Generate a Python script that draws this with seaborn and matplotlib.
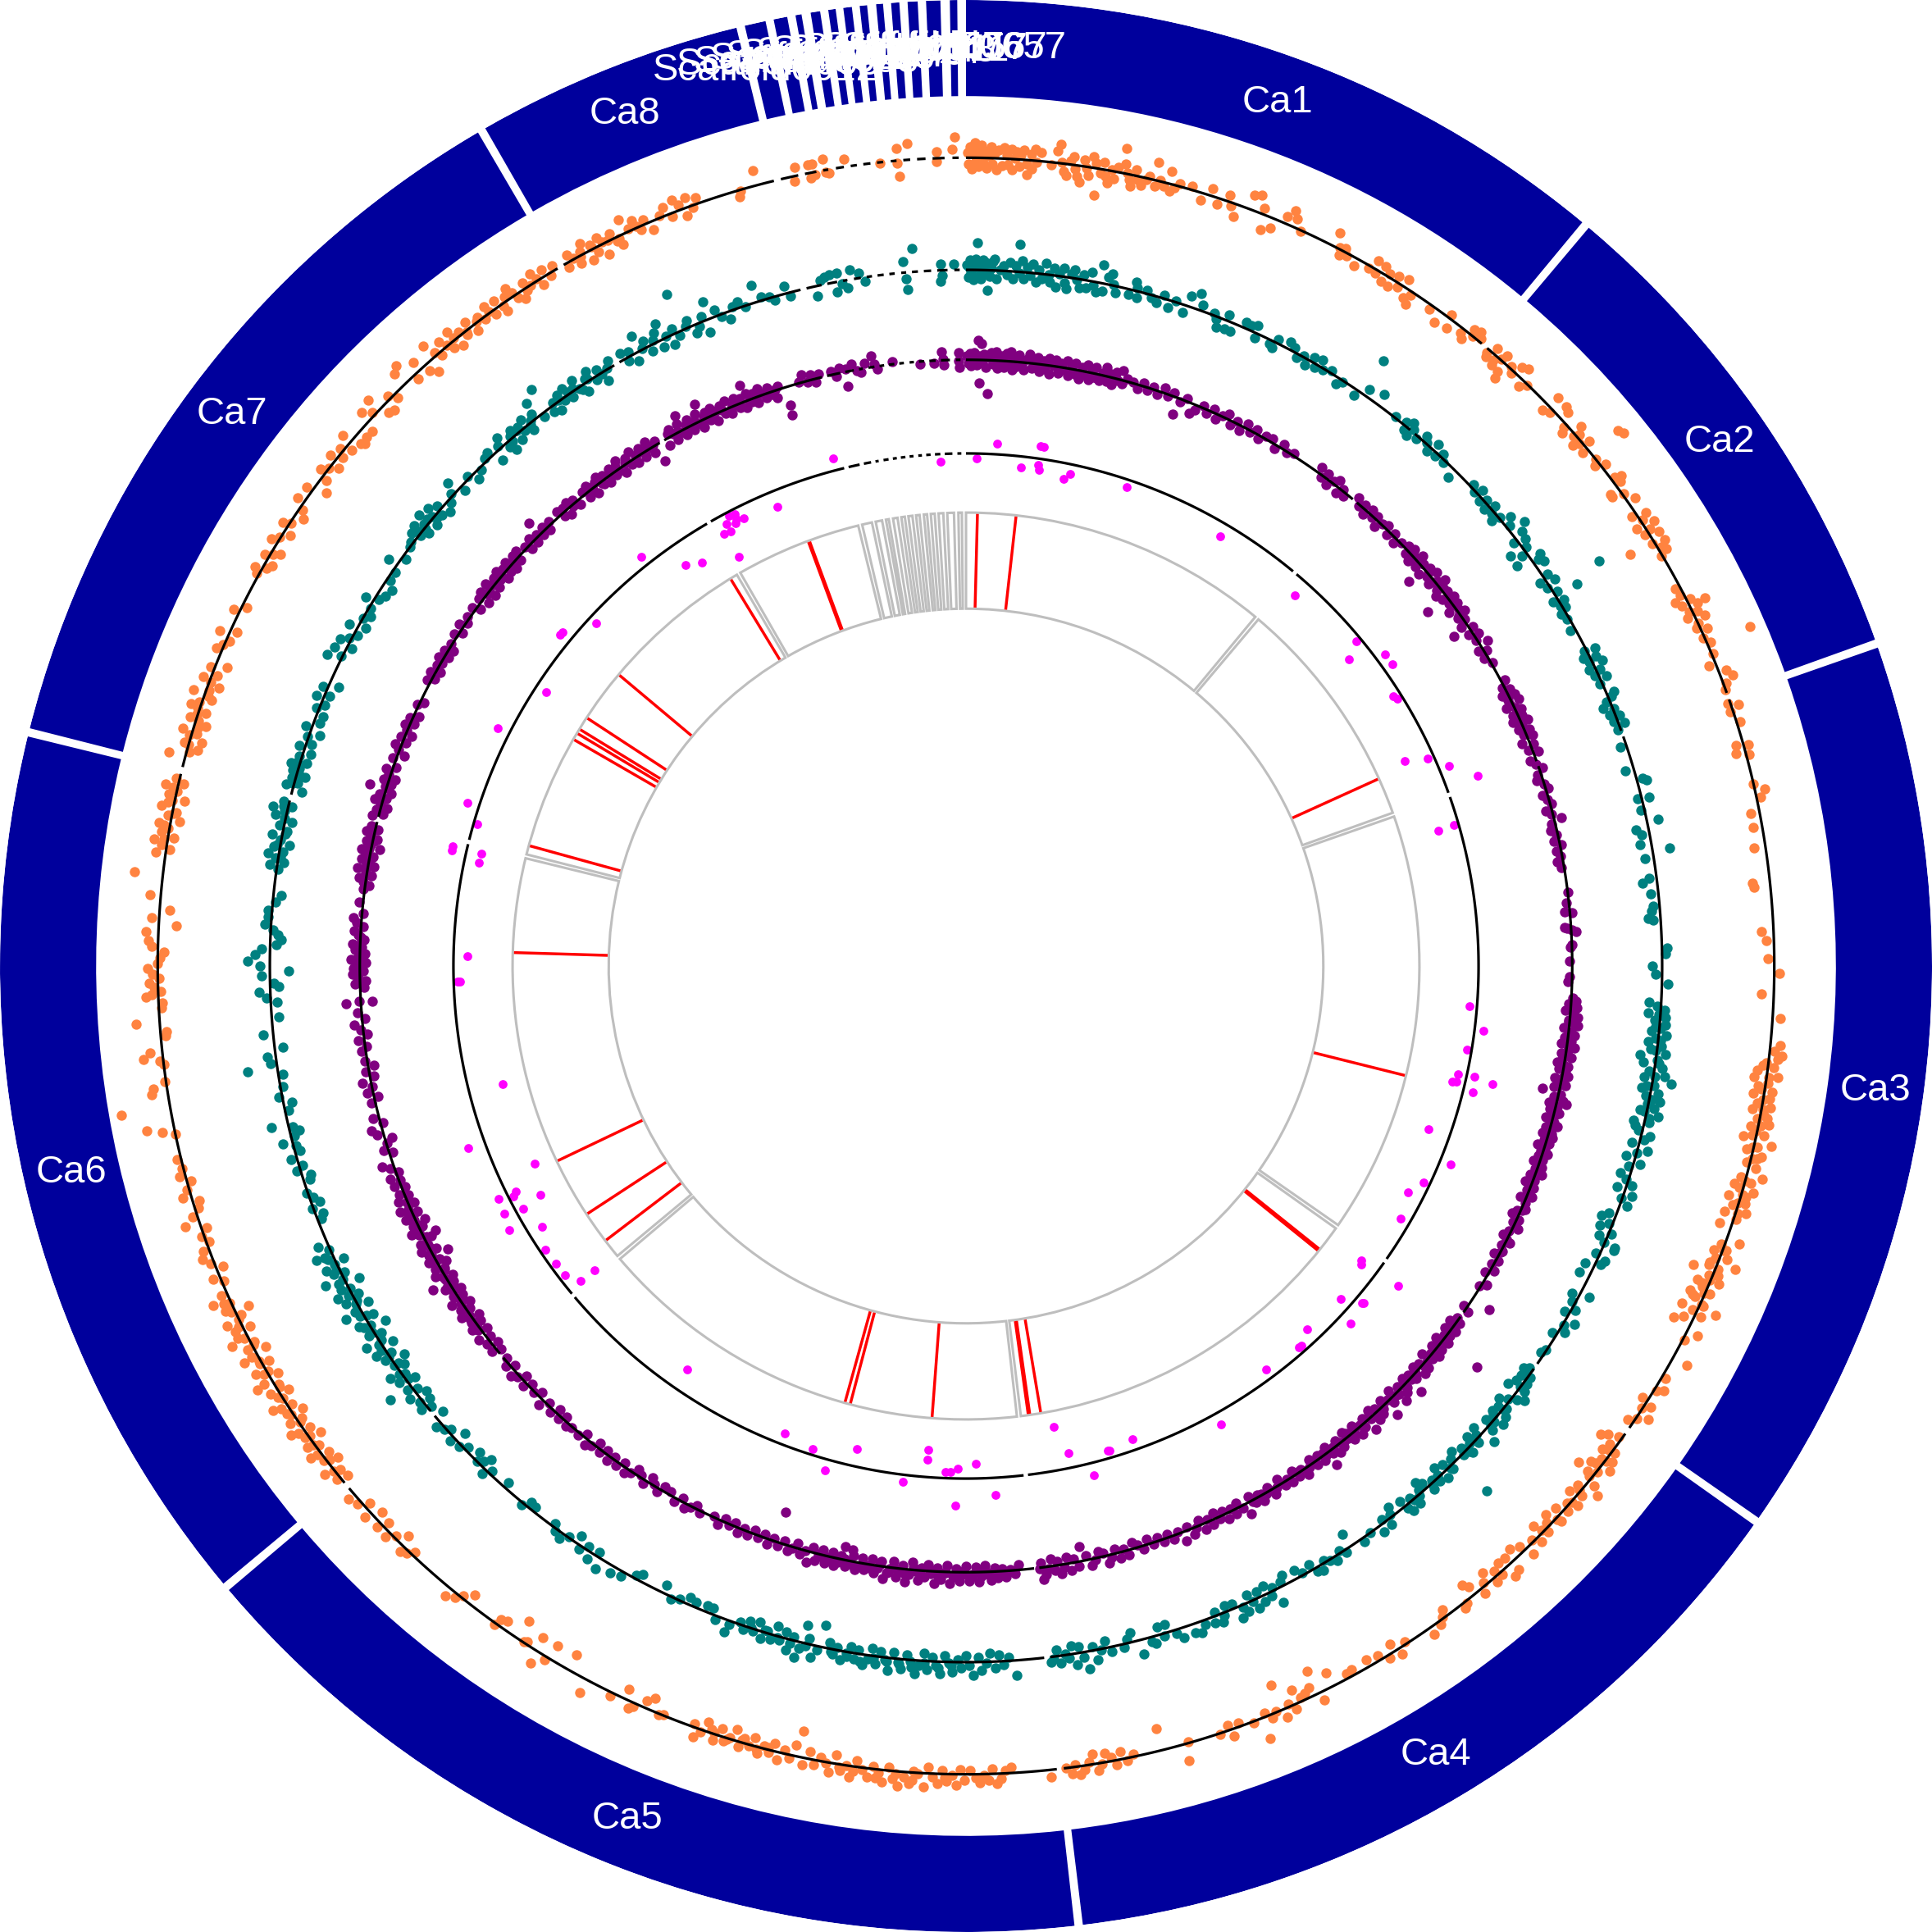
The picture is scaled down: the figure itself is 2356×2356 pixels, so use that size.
"""Circular genome plot: eight Ca chromosomes plus scaffolds, four scatter tracks and a marker ring."""
import numpy as np
import pandas as pd
import matplotlib
matplotlib.use("Agg")
import matplotlib.pyplot as plt
import seaborn as sns

# sector name, start and end, in degrees clockwise from the top
sector_names = ["Ca1", "Ca2", "Ca3", "Ca4", "Ca5", "Ca6", "Ca7", "Ca8",
                "Scaffold0012", "Scaffold0034", "Scaffold0058", "Scaffold0106",
                "Scaffold0127", "Scaffold0240", "Scaffold0314", "Scaffold0448",
                "Scaffold0511", "Scaffold0657", "Scaffold5767", "Scaffold0657"]
sector_start = [0.0, 40.15, 70.75, 125.35, 173.55, 230.25, 284.25, 330.15,
                346.76, 348.51, 349.83, 350.74, 351.8, 352.7, 353.68, 354.66,
                355.55, 356.53, 357.63, 359.04]
sector_end = [39.65, 70.25, 124.85, 173.05, 229.75, 283.75, 329.65, 346.25,
              348.02, 349.33, 350.19, 351.31, 352.24, 353.21, 354.12, 355.07,
              356.04, 357.13, 358.48, 359.48]

# marker positions in the inner ring (degrees)
marker_pos = [1.45, 6.35, 65.6, 104.0, 128.7, 128.95, 170.5, 171.9, 172.1, 184.3, 194.8, 195.5,
              232.7, 236.8, 244.5, 271.7, 285.4, 300.0, 300.9, 301.5, 303.2, 310.0, 328.7, 339.7]

magenta_points = [(3.4,9),(1.2,-4),(357.1,-6),(8.2,10),(8.5,10),(6.3,-9),(8.2,-5),(8.4,-9),(12,-8),(11.3,-13),
    (18.6,-6),(30.6,-11),(345.3,10),(337.7,-13),(332.9,-4),(332.2,-3),(333.6,-10),(332.8,-8),(331.6,-8),(332.5,-11),
    (331.5,-15),(330.8,-14),(331,-36),(325,-19),(326.8,-25),(41.6,-14),(50.2,-4),(51.3,-18),(53.4,8),(54.7,8),
    (57.7,-6),(58.2,-4),(65,-23),(65.8,-5),(67.5,8),(69.6,27),(74,-17),(73.9,-4),(94.6,-6),(97.1,7),
    (99.5,-4),(102.4,-7),(102.3,6),(102.6,22),(103.4,-10),(103.3,-7),(104,8),(109.4,-18),(112.3,9),(115.3,-5),
    (117.1,-13),(120.2,-8),(126.7,-16),(127.1,-14),(126.5,20),(131.6,-9),(130.3,7),(130.4,6),(132.9,10),(136.8,-12),
    (138.5,-5),(138.9,-5),(143.4,-8),(150.9,10),(169.2,-35),(168.1,-12),(163.7,-6),(163.5,-6),(160.6,-9),(165.9,10),
    (178.9,-12),(176.8,14),(214.7,-18),(201.2,-9),(197.6,-5),(192.7,-14),(195.6,9),(184.5,-22),(184.5,-14),(182.3,-5),
    (181.8,-5),(180.9,-8),(187,6),(181.1,22),(303.1,-9),(296.9,10),(288.1,10),(286.2,-3),(283.1,12),(282.7,12),
    (283,-12),(282,-12),(271.1,-11),(268.2,-5),(268.2,-3),(255.7,-28),(249.9,14),(245.4,-31),(243.4,-7),(243,-4),
    (243.5,8),(241.7,-24),(241.3,-6),(241.8,9),(240,12),(238.4,-12),(236,-4),(234,-5),(232.4,-5),(230.8,-12),
    (230.7,-26),(321.6,8),(312.8,-7),(309.6,9),(309.2,9)]

orange_points = [(0.1,4),(0.2,-5),(0.3,9),(0.4,-9),(0.5,3),(0.6,12),(0.7,-3),(0.8,7),(0.9,-7),(1.0,1),(1.1,10),(1.2,-4),
    (1.3,6),(1.5,-8),(1.6,2),(1.8,9),(1.9,-5),(2.0,4),(2.2,-9),(2.3,7),(2.6,-6),(2.7,9),(2.9,3),(3.0,-5),(3.2,8),(3.3,-9),
    (3.5,1),(3.6,6),(3.8,-6),(3.9,4),(4.1,8),(4.3,-3),(4.4,-12),(4.6,5),(4.7,-7),(4.9,9),(5.0,-1),(5.3,7),(6.1,-2),(6.6,15),
    (6.4,10),(6.8,1),(7.0,-6),(7.2,-9),(7.4,3),(7.6,7),(7.8,-3),(8.0,-9),(8.2,-13),(8.4,5),(8.6,-1),(8.8,-7),(9.0,9),(9.4,-22),
    (9.2,4),(9.6,-3),(9.8,6),(10.0,-5),(10.2,-10),(10.4,1),(10.6,-6),(10.8,4),(11.1,20),(11.3,8),(11.5,1),(11.7,-4),(11.9,-9),(12.1,5),
    (12.3,-3),(12.6,-7),(12.9,-1),(13.1,2),(13.5,15),(13.6,-5),(13.9,1),(14.2,-3),(14.5,10),(14.7,-6),(15.0,-2),(15.3,2),(16.2,3),(17.0,-6),
    (17.6,6),(18.2,-5),(18.9,5),(19.2,-3),(19.6,-10),(20.5,12),(21.0,14),(21.8,-12),(22.4,-8),(21.5,5),(23.2,6),(23.6,13),(23.9,7),(24.5,-1),
    (27.0,12),(27.5,1),(27.7,-4),(27.9,3),(28.2,-2),(29.0,-6),(30.0,-2),(30.3,7),(30.6,-3),(31.0,6),(31.2,-6),(31.5,3),(31.8,-7),(32.1,5),
    (32.4,-3),(32.8,7),(33.2,-8),(33.5,-3),(33.6,-11),(35.2,-4),(36.0,-10),(36.7,3),(37.0,-8),(38.0,-4),(38.3,-7),(38.6,5),(38.8,0),(39.1,7),
    (39.4,3),(40.3,-3),(40.5,-6),(40.7,5),(41.0,-4),(41.2,-8),(41.4,1),(41.6,6),(41.8,-9),(42.0,-14),(42.3,2),(42.6,-2),(42.9,7),(43.3,10),
    (43.6,-6),(44.0,-1),(46.0,-6),(46.2,10),(46.5,-3),(47.0,10),(47.4,8),(48.0,-3),(48.2,-7),(48.7,8),(48.9,-2),(49.1,3),(49.4,-7),(49.6,-2),
    (49.9,5),(50.2,-5),(50.6,29),(51.0,31),(51.2,0),(51.5,-4),(51.9,4),(53.0,3),(53.2,8),(53.5,5),(53.8,-8),(54.0,-8),(54.3,1),(55.0,7),
    (56.0,-4),(56.3,7),(56.6,2),(56.9,-6),(57.1,9),(57.4,3),(57.6,-3),(57.9,8),(58.2,-22),(58.4,-2),(58.6,8),(58.9,3),(59.2,6),(59.5,-1),
    (62.0,-4),(62.6,-3),(62.9,-9),(63.1,3),(63.3,-6),(63.5,14),(63.6,7),(63.9,-2),(64.1,4),(64.3,-6),(64.6,8),(64.9,0),(65.2,-3),(65.5,5),
    (66.0,-1),(66.5,3),(66.6,37),(67.3,1),(68.0,-6),(68.7,6),(69.2,10),(69.6,2),(70.0,0),(71.0,-2),(71.3,6),(71.6,-2),(72.5,3),(74.0,-6),
    (74.2,4),(74.6,-8),(74.9,2),(77.0,0),(77.5,8),(78.0,3),(79.0,-7),(80.0,-7),(81.5,-9),(84.0,-14),(84.3,-13),(87.5,-10),(88.2,-6),(89.5,-5),
    (90.5,4),(92.0,-10),(93.7,6),(95.6,8),(96.0,4),(96.3,10),(96.6,7),(96.9,-2),(97.2,5),(97.5,-8),(97.8,9),(98.0,-10),(98.3,2),(98.6,-6),
    (98.9,6),(99.2,-9),(99.5,0),(99.8,-4),(100.0,7),(100.3,-7),(100.6,3),(100.9,-2),(101.2,8),(101.5,-6),(101.8,-1),(102.0,6),(102.3,-10),(102.6,14),
    (102.9,3),(103.2,-5),(103.5,8),(103.8,1),(104.1,-3),(104.4,6),(105.0,13),(105.2,-4),(105.5,5),(105.8,-8),(106.1,9),(106.4,1),(106.7,-10),(107.0,5),
    (107.3,-4),(107.6,8),(107.9,-9),(108.2,2),(108.8,-10),(109.8,11),(110.2,-3),(110.5,3),(110.8,-7),(111.1,6),(111.5,15),(111.7,-6),(112.0,2),(112.3,-18),
    (112.6,-3),(112.9,7),(113.2,-10),(113.5,-4),(113.8,4),(114.1,-12),(114.4,-6),(114.7,1),(115.0,15),(115.2,-14),(115.5,5),(116.0,-8),(116.4,-15),(116.8,9),
    (117.5,1),(119.0,13),(120.5,3),(121.3,7),(121.6,2),(122.5,-5),(122.8,5),(123.2,-1),(123.6,9),(124.0,1),(124.4,-5),(125.8,-3),(126.1,-11),(126.4,-16),
    (126.6,-5),(126.9,2),(127.2,-8),(127.5,5),(127.8,-3),(128.1,8),(128.4,-9),(128.7,1),(129.0,-16),(129.3,-2),(129.6,6),(130.0,13),(130.3,-5),(130.7,3),
    (131.0,-7),(131.4,6),(131.8,-2),(132.2,3),(132.6,-6),(133.0,5),(133.4,-8),(133.8,-3),(134.2,3),(134.6,-9),(135.0,5),(135.4,-2),(136.0,7),(136.4,-5),
    (137.0,-9),(137.5,8),(137.7,-6),(138.0,10),(138.3,-7),(138.6,2),(138.9,-4),(139.2,4),(139.6,-9),(140.0,-3),(140.4,5),(141.0,-8),(141.3,-12),(141.8,2),
    (142.1,4),(143.5,-6),(143.8,-1),(144.2,3),(145.0,6),(147.0,-2),(147.6,5),(148.0,-7),(148.5,3),(149.2,-4),(150.0,-6),(151.3,-5),(151.7,-4),(153.0,-12),
    (154.0,7),(154.2,-20),(154.6,-8),(155.0,-5),(155.4,-3),(155.8,-12),(156.0,4),(156.4,-2),(156.8,7),(157.0,-22),(157.4,-1),(157.8,3),(158.2,-3),(158.5,18),
    (159.2,1),(160.2,-3),(160.8,6),(161.0,-4),(161.7,1),(164.0,-1),(164.3,14),(166.0,-18),(168.0,-2),(168.5,2),(168.9,-6),(169.3,4),(169.6,-3),(170.0,-7),
    (170.3,1),(170.6,6),(170.9,-8),(171.2,-2),(171.6,3),(171.9,7),(172.2,-2),(172.5,5),(172.9,0),(174.0,6),(176.8,-5),(177.2,-2),(177.5,4),(177.8,8),
    (178.1,-4),(178.4,5),(178.7,1),(179.0,7),(179.3,3),(179.7,-3),(180.1,5),(180.4,-4),(180.7,9),(181.0,1),(181.4,6),(181.7,-3),(182.0,8),(182.4,3),
    (182.7,-5),(183.0,11),(183.4,1),(183.7,-1),(184.0,9),(184.4,4),(184.8,12),(185.2,6),(185.5,-3),(185.9,10),(186.2,3),(186.6,-2),(187.0,7),(187.4,2),
    (187.8,-5),(188.2,9),(188.5,0),(188.9,5),(189.3,-7),(189.7,8),(190.0,1),(190.4,-3),(190.8,4),(191.2,-6),(191.6,6),(192.0,-21),(192.3,-9),(192.6,3),
    (193.0,-3),(193.4,6),(193.8,-6),(194.1,2),(194.5,-2),(194.9,5),(195.3,-7),(195.6,1),(196.0,-4),(196.3,4),(196.7,-9),(197.0,-1),(197.4,3),(197.7,-6),
    (198.1,5),(198.4,-3),(198.8,-8),(199.1,2),(199.5,8),(199.7,-3),(202.0,-1),(202.3,1),(203.0,-10),(203.5,-6),(204.2,3),(204.5,6),(205.0,-8),(206.0,3),
    (208.0,12),(209.5,-14),(211.0,-12),(211.3,3),(212.0,11),(212.2,-12),(213.0,-2),(213.2,-1),(213.7,-17),(215.0,-7),(215.4,-5),(215.6,1),(218.0,-8),(218.6,-2),
    (219.0,3),(219.6,7),(223.2,-3),(223.6,2),(224.0,5),(224.4,-9),(225.0,-2),(225.5,5),(226.0,-5),(226.4,4),(226.9,-7),(227.5,6),(228.0,-5),(228.5,3),
    (229.2,6),(230.5,-6),(230.8,3),(231.2,-4),(231.6,8),(232.0,-9),(232.4,2),(232.7,-6),(233.1,9),(233.5,-3),(233.8,6),(234.2,-10),(234.5,3),(234.9,-5),
    (235.2,11),(235.6,-1),(235.9,6),(236.3,-9),(236.6,4),(237.0,-4),(237.3,12),(237.7,0),(238.0,-8),(238.4,7),(238.7,-3),(239.1,14),(239.4,-7),(239.8,3),
    (240.1,9),(240.5,-6),(240.8,1),(241.2,12),(241.5,-9),(241.9,5),(242.2,-3),(242.6,15),(242.9,8),(243.3,-6),(243.6,3),(244.0,11),(244.3,-3),(244.7,-12),
    (245.0,7),(245.4,1),(245.7,14),(246.1,5),(247.0,-2),(247.4,6),(248.0,-6),(248.5,3),(249.0,8),(249.5,5),(250.0,-2),(250.5,2),(251.0,-4),(251.5,12),
    (252.0,4),(252.5,-3),(253.0,-5),(253.5,7),(254.0,2),(254.5,-3),(255.0,5),(255.5,1),(256.2,3),(258.0,0),(258.3,10),(258.6,22),(260.0,40),(261.0,13),
    (261.4,11),(261.8,1),(263.0,0),(263.3,3),(263.5,16),(263.9,10),(265.0,-4),(265.3,-5),(266.0,19),(267.0,-2),(267.4,-3),(267.8,10),(268.0,5),(268.2,-2),
    (268.5,3),(268.8,7),(269.1,-1),(269.4,4),(269.8,8),(270.2,0),(270.6,-2),(271.0,-5),(271.4,5),(271.8,8),(272.4,10),(272.9,-14),(273.4,6),(274.0,-8),
    (275.0,9),(276.5,23),(278.0,8),(278.3,-3),(278.6,4),(278.9,11),(279.2,-5),(279.5,6),(279.8,1),(280.1,9),(280.4,-7),(280.7,3),(281.0,-3),(281.3,10),
    (281.6,5),(281.9,-8),(282.2,6),(282.5,0),(282.8,10),(283.1,-4),(283.4,3),(285.0,14),(285.4,-2),(285.7,-8),(286.0,4),(286.3,-10),(286.6,2),(286.9,8),
    (287.2,-3),(287.5,-9),(287.8,5),(288.1,1),(288.4,-6),(288.7,8),(289.0,2),(289.4,-7),(289.7,10),(290.0,-2),(290.4,-9),(290.8,6),(291.2,-4),(291.6,3),
    (292.0,-9),(293.0,5),(293.4,1),(293.8,-3),(294.2,8),(294.6,-5),(296.0,5),(296.5,-4),(299.0,2),(299.3,6),(299.6,-3),(300.0,-6),(300.4,4),(300.7,-2),
    (301.0,-7),(301.6,6),(302.0,1),(302.5,-6),(303.0,5),(303.3,-1),(304.0,-7),(304.5,-3),(305.0,6),(306.0,5),(306.5,-10),(307.2,-4),(307.6,5),(308.0,0),
    (308.4,-6),(308.8,6),(309.2,-3),(309.6,3),(310.0,-5),(310.4,8),(310.8,-7),(311.0,-10),(311.4,-7),(312.0,-8),(312.5,9),(313.0,3),(313.4,12),(313.8,-7),
    (314.2,-9),(314.6,3),(315.0,-4),(316.0,12),(316.5,16),(317.0,-4),(317.5,8),(318.0,-6),(318.4,-11),(318.8,13),(319.1,3),(319.4,-3),(319.8,7),(320.1,1),
    (320.4,-5),(320.7,9),(321.0,-8),(321.3,3),(321.7,-3),(322.1,6),(322.5,-6),(323.0,3),(323.4,-2),(323.8,7),(324.2,-4),(324.6,6),(325.0,-7),(325.4,4),
    (325.8,9),(326.2,-3),(326.6,-7),(327.0,5),(327.4,0),(327.8,8),(328.2,-5),(328.6,6),(329.0,-2),(329.4,4),(330.4,-4),(330.7,6),(331.0,1),(331.3,-6),
    (331.6,3),(331.9,9),(332.2,-8),(332.5,2),(332.8,-4),(333.1,7),(333.4,-10),(333.7,1),(334.0,5),(334.3,-3),(334.6,-8),(335.0,12),(335.4,2),(335.8,7),
    (336.2,-3),(336.6,4),(337.0,-7),(337.8,2),(338.2,7),(338.6,-3),(339.0,10),(339.3,4),(339.6,-6),(339.9,8),(340.2,-2),(340.6,5),(343.6,-5),(343.8,-1),
    (345.0,12),(347.9,7),(347.7,-4),(348.8,7),(349.1,7),(348.9,-4),(349.2,-2),(349.9,9),(350.0,-2),(350.2,-3),(351.4,6),(353.9,-1),(355.1,-2),(355.2,-13),
    (355.1,10),(355.9,13),(357.9,5),(357.9,-3),(359.0,7),(359.2,17)]

# the thick clumps of the orange track
orange_clumps = [(97.1,-4),(97.9,2),(98.8,-3),(99.4,5),(100.2,1),(100.8,6),(101.4,2),(102.1,-3),(103.0,-1),(103.7,5),(105.4,0),(106.0,-3),(106.5,4),
    (107.1,-1),(107.8,2),(110.6,1),(111.3,-3),(111.9,-6),(112.4,4),(112.9,-1),(113.3,-6),(113.9,-1),(114.3,-9),(114.8,3),(115.3,-4),(127.0,-3),(127.7,1),(128.3,-5),
    (129.1,-6),(130.5,-1),(131.5,1),(133.1,1),(134.4,-2),(181.5,3),(183.8,6),(185.0,2),(186.4,7),(188.0,4),(189.0,2),(194.2,-2),(195.0,2),(196.1,-2),(197.2,1),
    (198.2,-1),(231.4,1),(232.2,-2),(233.0,3),(233.7,1),(234.4,-1),(235.0,5),(235.8,-4),(236.4,2),(237.1,6),(237.9,3),(238.5,-3),(239.2,7),(239.9,-1),(240.6,2),
    (241.3,5),(242.0,-1),(242.7,3),(243.4,7),(244.1,0),(244.8,3),(245.5,6),(279.0,3),(280.0,5),(280.9,-1),(281.8,2),(282.7,4),(285.9,0),(286.8,-4),(287.7,-2),
    (288.6,2),(289.6,-3),(290.6,-1),(320.8,2),(321.8,-1),(322.8,1),(323.9,1),(325.0,-2),(326.0,3),(327.0,-2),(328.0,2),(331.5,-1),(332.4,4),(333.3,2),(334.5,-2),(336.0,1)]

teal_points = [(0.1,4),(0.2,-6),(0.3,8),(0.4,-2),(0.5,6),(0.6,-8),(0.7,2),(0.9,22),(0.8,9),(1.0,-5),(1.1,5),(1.2,-7),(1.3,0),(1.4,8),
    (1.5,-3),(1.6,6),(1.8,-16),(1.9,2),(2.0,-5),(2.2,7),(2.3,9),(2.5,-7),(2.8,1),(3.1,4),(3.4,-3),(3.6,7),(3.9,-6),(4.1,5),(4.3,22),(4.4,-1),
    (4.6,9),(4.8,-5),(5.0,4),(5.3,-2),(5.5,7),(5.8,-7),(6.0,3),(6.3,-4),(6.5,9),(6.8,0),(7.0,-6),(7.2,6),(7.5,-9),(7.7,2),(8.0,7),(8.2,-5),
    (8.4,-9),(8.7,3),(8.9,7),(9.2,-1),(9.5,-7),(9.7,4),(10.0,-6),(10.3,7),(10.6,-3),(10.9,-8),(11.1,15),(11.4,-6),(11.7,6),(12.0,9),(12.2,1),(12.5,-5),
    (13.6,-4),(14.0,7),(14.2,3),(14.3,-5),(15.0,3),(15.5,-2),(16.0,-5),(16.5,3),(17.0,-6),(17.5,1),(18.3,-6),(18.6,9),(19.3,13),(19.7,5),(20.8,2),(21.1,-2),
    (21.4,-8),(22.0,5),(22.1,-7),(22.6,-7),(23.5,5),(24.0,4),(24.5,6),(24.7,-4),(26.0,-3),(26.3,-5),(26.5,3),(27.5,6),(28.0,3),(28.5,-3),(29.0,1),(29.4,-5),
    (29.8,4),(30.2,-3),(30.5,6),(30.9,-1),(31.6,2),(32.4,-5),(32.8,-1),(34.2,-5),(34.6,32),(35.0,6),(36.2,10),(38.0,1),(39.0,3),(39.2,-3),(39.5,6),(39.7,-5),
    (39.9,2),(40.5,-2),(41.0,5),(41.4,1),(41.8,-4),(42.2,6),(42.6,-3),(43.0,3),(43.5,-2),(44.6,-8),(46.5,3),(47.0,-1),(47.4,5),(47.8,-3),(48.2,2),(48.6,-4),
    (49.0,4),(49.3,-2),(49.7,-6),(50.0,1),(50.5,8),(51.0,3),(51.5,14),(52.0,8),(52.3,-3),(52.6,6),(53.0,-12),(53.2,3),(53.6,-4),(54.0,-12),(54.3,9),(54.6,5),
    (55.0,8),(56.0,4),(56.3,-5),(56.7,7),(57.0,-2),(57.4,45),(57.6,3),(58.0,20),(58.2,-4),(58.5,4),(58.8,-1),(59.1,2),(59.4,-4),(60.0,-2),(61.0,-4),(63.0,-2),
    (63.2,7),(63.5,-5),(63.8,5),(64.0,-2),(64.3,8),(64.6,-5),(64.9,3),(65.2,-3),(65.6,6),(66.0,-2),(67.0,6),(67.3,3),(67.6,-3),(68.0,-7),(68.3,1),(68.7,-4),
    (69.0,3),(69.3,-3),(69.7,5),(70.1,-2),(71.5,-5),(73.5,-7),(74.5,5),(74.7,8),(76,-3),(76.1,6),(77,-3),(78,9),(78.5,-10),(79,-6),(79.8,-9),(80.5,14),
    (81,-7),(82.7,-6),(83,-12),(84,-6),(85,-5),(85.4,-7),(86,-10),(86.2,-6),(88.5,4),(89,3),(90,-8),(90.7,-5),(91.5,5),(93.0,-10),(93.3,-3),(93.6,3),
    (93.9,-10),(94.2,4),(94.5,-4),(94.8,5),(95.1,1),(95.4,-6),(95.7,6),(96.0,-2),(96.3,-8),(96.6,3),(96.9,-5),(97.2,7),(97.5,-13),(97.8,1),(98.1,-10),(98.4,6),
    (98.7,-4),(99.0,9),(99.3,-7),(99.5,15),(99.9,2),(100.2,-8),(100.5,6),(100.8,-3),(101.1,9),(101.4,-1),(101.7,5),(102.0,-6),(102.3,10),(102.6,3),(103.0,-9),(103.4,-7),
    (103.7,-3),(104.0,7),(104.4,3),(104.8,-6),(105.2,8),(105.6,0),(106.0,-8),(106.4,5),(106.8,-3),(107.5,-8),(107.9,-2),(108.3,4),(108.7,-7),(109.1,7),(109.5,-1),(110.0,6),
    (111.0,-6),(111.4,-11),(111.8,-3),(112.2,-9),(112.6,2),(113.0,-7),(113.4,-1),(113.5,9),(113.7,9),(114.5,-3),(114.8,6),(115.2,4),(115.6,-8),(116.5,-9),(118.0,8),(118.4,-6),
    (119.0,-3),(119.5,3),(120.0,-4),(120.5,8),(121.0,1),(121.5,5),(122.0,-4),(123.5,-1),(123.9,-3),(125.5,-3),(125.8,-7),(126.1,2),(126.4,-5),(126.7,3),(127.0,-6),(127.3,5),
    (127.6,-10),(127.9,9),(128.2,4),(129.0,-8),(129.3,2),(129.6,-4),(129.9,6),(130.2,-6),(130.5,8),(130.8,1),(131.1,-5),(131.4,5),(132.0,12),(132.3,-8),(132.6,-3),(132.9,3),
    (133.2,-7),(133.5,-2),(133.8,5),(134.2,-4),(134.5,1),(135.0,-8),(135.2,35),(135.5,-4),(135.9,3),(136.3,-5),(136.7,6),(137.0,-8),(137.4,3),(137.8,-2),(138.2,5),(138.6,-5),
    (139.0,-9),(139.4,1),(139.8,6),(140.2,-3),(140.6,7),(141.0,-6),(142.0,-8),(142.3,-2),(142.7,5),(143.1,-3),(143.5,6),(144.5,0),(145.3,3),(146.5,-12),(147.0,2),(147.5,-2),
    (148.0,4),(148.5,1),(149.0,-2),(149.4,5),(149.8,3),(150.2,-5),(151.0,-2),(151.5,-7),(152.6,-8),(153.0,-4),(153.5,12),(153.8,-3),(154.1,3),(154.4,-7),(154.8,5),(155.1,-5),
    (155.4,8),(155.7,1),(156.0,-6),(156.3,7),(156.6,2),(157.0,10),(157.4,-4),(158.0,-5),(158.3,2),(158.6,7),(159.0,-3),(159.2,5),(160.0,4),(160.5,9),(161.0,7),(162.0,8),
    (162.5,3),(163.2,-7),(163.5,2),(163.9,-7),(164.3,6),(164.6,4),(165.5,12),(166.2,-8),(166.6,-3),(166.9,3),(168.0,4),(168.4,-6),(168.8,1),(169.2,8),(169.5,-3),(170.0,14),
    (170.3,4),(170.6,-5),(170.9,9),(171.2,-7),(171.5,3),(171.8,-1),(172.2,6),(172.5,-5),(172.8,2),(173.0,4),(175.9,12),(176.5,-3),(176.9,3),(177.3,-5),(177.6,5),(178.0,-7),
    (178.3,1),(178.7,7),(179.0,-4),(179.4,11),(179.7,3),(180.0,-5),(180.4,5),(180.7,-2),(181.1,8),(181.4,1),(181.8,-5),(182.1,10),(182.5,3),(182.8,-3),(183.2,7),(183.5,-6),
    (183.9,4),(184.2,11),(184.6,1),(184.9,-4),(185.3,8),(185.6,3),(186.0,-5),(186.4,10),(186.7,2),(187.1,-4),(187.4,6),(187.8,-6),(188.1,3),(188.5,8),(188.9,-3),(189.2,5),
    (189.6,-5),(189.9,1),(190.3,7),(190.7,-2),(191.0,4),(191.4,-5),(192.0,-18),(192.3,3),(192.7,10),(193.1,-5),(193.5,-15),(193.8,5),(194.0,13),(194.4,-3),(194.8,9),(195.1,-5),
    (195.5,3),(195.9,-8),(196.2,4),(196.6,-2),(197.0,6),(197.4,-7),(197.8,2),(198.2,-5),(198.6,3),(199.0,-2),(199.8,3),(200.0,10),(201,3),(201.5,-5),(202.0,-5),(203.0,-4),
    (203.6,-6),(204.3,-1),(205.0,2),(205.8,-7),(208,-6),(208.4,-3),(209.5,4),(210.4,6),(211.6,9),(212.0,-4),(212.6,6),(213.0,-3),(213.6,3),(214.0,-7),(214.8,-1),(215.4,5),
    (216.0,2),(216.4,-3),(218.5,-4),(219.0,-5),(219.5,2),(221.5,-5),(223.2,-3),(223.6,4),(223.9,-9),(224.2,-4),(224.6,0),(225,-7),(226,-3),(226.5,2),(227,-9),(227.4,4),
    (228,-3),(228.4,1),(229,5),(229.6,-7),(230.5,-3),(230.8,5),(231.1,-6),(231.4,2),(231.8,-8),(232.1,7),(232.4,-3),(232.8,4),(233,20),(233.3,-7),(233.7,6),(234.0,-2),
    (234.4,10),(234.7,-6),(235.1,1),(235.4,-11),(235.8,5),(236.1,-3),(236.5,9),(236.8,-9),(237.2,2),(237.5,12),(237.9,-5),(238.2,5),(238.6,-13),(238.9,-1),(239.3,8),(239.6,-7),
    (240.0,3),(240.3,14),(240.7,-9),(241.0,1),(241.4,8),(241.7,-5),(242.1,12),(242.4,-1),(242.8,-11),(243.1,6),(243.5,16),(243.8,-3),(244.2,3),(244.5,10),(244.9,-7),(245.3,5),
    (245.6,14),(246.0,1),(246.5,8),(248.6,-3),(249.0,-6),(249.6,1),(250.0,-7),(250.5,-3),(251.0,1),(252.0,-5),(252.4,-7),(253.0,3),(253.3,-3),(254.0,5),(254.5,-4),(255.0,-2),
    (255.4,8),(255.8,-3),(256.2,-8),(256.6,-3),(256.9,14),(258.0,-3),(258.6,-7),(259.2,3),(260.0,-2),(261.0,-4),(261.6,24),(262.0,5),(262.6,7),(263.2,-7),(264.4,8),(265.8,-6),
    (267.0,-5),(267.4,3),(267.9,9),(268.3,-7),(268.6,-3),(269.2,7),(269.6,-15),(270.0,8),(270.4,18),(270.9,12),(271.4,7),(271.8,-5),(272.2,-9),(272.6,-6),(273.0,-2),(273.4,5),
    (274.0,3),(274.6,3),(275.3,-2),(275.9,-6),(278.0,-1),(278.3,6),(278.6,-5),(278.9,2),(279.2,9),(279.5,-3),(279.8,5),(280.1,-7),(280.4,1),(280.8,8),(281.2,-3),(281.6,4),
    (282.0,-6),(282.4,9),(282.8,2),(283.0,12),(283.3,-3),(283.6,5),(284.7,-8),(285.0,6),(285.3,-3),(285.6,3),(285.9,-7),(286.2,4),(286.5,-1),(286.8,7),(287.1,-5),(287.5,2),
    (287.9,-6),(288.3,5),(288.7,-4),(289.2,1),(289.6,-8),(290.0,5),(290.6,-5),(291.2,-5),(291.7,2),(292.1,-3),(292.6,6),(293.0,-4),(293.5,4),(294.0,-8),(296.0,12),(296.4,1),
    (296.8,9),(297.3,-4),(297.6,8),(298.0,2),(298.5,-3),(299.0,7),(299.4,-6),(300.0,0),(300.4,-5),(301.0,-1),(301.6,7),(302.0,-3),(302.5,-6),(303.2,-8),(303.8,-3),(304.6,-2),
    (305.2,8),(306.0,-3),(307.0,0),(307.4,2),(308.0,6),(308.3,-1),(308.6,8),(308.9,-5),(309.2,3),(309.5,10),(309.8,-6),(310.1,1),(310.4,8),(310.7,-4),(311.0,4),(311.4,-7),
    (312.0,-3),(312.5,2),(313.0,10),(313.5,-4),(314.5,2),(315.0,-6),(315.7,-2),(316.5,3),(317.0,5),(317.5,-8),(318.0,3),(318.4,8),(318.7,-4),(319.0,-9),(319.3,2),(319.6,6),
    (319.9,-6),(320.2,4),(320.5,-2),(320.8,7),(321.1,-6),(321.4,1),(321.8,5),(322.0,14),(322.5,-3),(323.0,21),(323.4,-5),(323.7,2),(324.0,-7),(324.4,5),(324.7,-2),(325.0,7),
    (325.4,-4),(325.7,2),(326.0,8),(326.4,-3),(326.7,-7),(327.0,3),(327.4,8),(327.8,-3),(328.2,4),(328.6,-8),(329.0,1),(329.4,6),(330.5,6),(330.9,-3),(331.2,4),(331.6,-7),
    (332.0,14),(332.3,1),(332.7,6),(333.0,-5),(333.4,3),(333.7,8),(334.0,-6),(334.2,14),(334.5,1),(334.9,-8),(335.2,5),(335.6,-3),(336.0,32),(336.3,2),(336.6,6),(337.0,-7),
    (337.4,-3),(337.8,4),(338.0,-10),(338.4,15),(339.0,5),(339.4,-2),(340.0,-6),(340.5,3),(341.0,5),(341.5,-1),(342.5,14),(343.0,3),(343.6,1),(344.0,-3),(345.0,6),(345.3,-3),
    (347.5,-8),(348.0,4),(348.4,6),(348.8,7),(349.2,-8),(349.4,7),(349.7,-2),(350.1,-6),(350.5,8),(351.2,4),(351.6,-3),(354.9,9),(355.0,-5),(355.1,-14),(355.7,19),(357.9,5),
    (357.9,-9),(358.0,-4),(359.0,5)]

# the thick clumps of the teal track
teal_clumps = [(0.3,2),(0.6,5),(1.0,3),(1.3,6),(1.7,-2),(2.1,2),(94.0,-1),(95.0,-3),(96.1,2),(97.0,-1),(98.0,3),(99.1,1),(100.0,-4),(101.0,2),(102.1,-2),(102.9,4),
    (126.2,-2),(127.2,0),(128.6,-2),(129.5,1),(130.4,-3),(131.2,1),(133.0,-1),(134.0,2),(136.0,1),(137.2,-2),(138.0,1),(139.2,-3),(140.0,1),(140.8,3),(181.2,3),(182.3,5),
    (183.4,2),(184.5,6),(185.5,4),(186.5,3),(187.6,2),(188.7,6),(189.8,4),(191.2,2),(193.3,2),(194.6,3),(195.7,1),(196.8,-2),(198.0,0),(233.5,-2),(234.2,2),(235.0,-3),
    (235.9,1),(236.7,3),(237.4,-2),(238.3,1),(239.0,5),(239.8,-2),(240.5,5),(241.2,-1),(241.9,3),(242.6,6),(243.3,1),(244.0,6),(244.7,2),(245.5,7),(279.0,-2),(280.0,3),
    (281.0,-2),(282.2,1),(283.2,4),(285.2,1),(286.0,-2),(287.0,2),(308.5,2),(309.0,-1),(309.7,3),(310.3,-2),(319.2,-2),(320.0,2),(321.2,-1),(324.2,1),(325.2,2),(326.2,-1),(327.2,2),(328.4,-1)]

purple_points = [(0.1,3),(0.2,-3),(0.4,5),(0.5,-5),(0.7,1),(0.8,6),(1.0,-4),(1.1,16),(1.2,3),(1.3,-19),(1.4,13),(1.5,-2),(1.7,5),(1.9,-6),(2.1,-27),
    (2.2,2),(2.4,6),(2.6,-3),(2.8,7),(3.0,-6),(3.2,1),(3.4,4),(3.6,-5),(3.8,6),(4.0,-1),(4.2,8),(4.4,-7),(4.6,3),(4.8,-4),(5.0,6),(5.3,-2),
    (5.5,-6),(5.8,3),(6.0,7),(6.3,-4),(6.5,1),(6.8,5),(7.0,-6),(7.3,3),(7.5,-3),(7.8,6),(8.0,-7),(8.3,0),(8.5,5),(8.8,-5),(9.0,3),(9.3,-2),
    (9.5,6),(9.8,-6),(10.0,1),(10.3,5),(10.5,-4),(10.8,-7),(11.0,3),(11.3,-3),(11.5,6),(11.8,-6),(12.0,1),(12.3,5),(12.5,-3),(12.8,-5),(13.0,2),(13.3,7),
    (13.5,-4),(13.8,3),(14.0,-6),(14.3,5),(14.5,-1),(14.8,8),(15.0,-3),(15.4,2),(16.0,1),(16.5,-3),(17.0,3),(17.5,-2),(18.0,2),(18.5,-3),(19.0,4),(19.5,-1),
    (20.0,3),(20.5,-14),(20.8,-2),(21.3,2),(22.0,-8),(22.4,-4),(23.0,2),(23.5,-3),(24.0,3),(24.5,-4),(25.0,1),(25.5,4),(26.0,-3),(26.5,2),(27.0,-4),(27.5,4),
    (28.0,-1),(28.5,3),(29.0,-3),(29.5,2),(30.2,3),(30.8,-3),(31.4,4),(32.0,-1),(32.6,2),(35.5,5),(36.0,-2),(36.4,4),(36.8,-4),(37.2,2),(37.6,5),(38.0,-5),
    (38.4,1),(38.8,-3),(40.0,4),(40.5,-1),(40.9,3),(41.3,-4),(41.7,4),(42.1,-1),(42.5,3),(42.9,-5),(43.3,1),(43.8,3),(44.3,-3),(44.8,2),(45.3,-4),(45.8,1),
    (46.5,3),(46.8,-3),(47.1,5),(47.5,-5),(47.8,1),(48.1,6),(48.4,-4),(48.7,2),(49.0,-16),(49.1,-6),(49.4,4),(49.8,-2),(50.1,6),(50.4,-5),(50.8,2),(51.1,7),
    (51.4,-3),(51.8,-7),(52.1,3),(52.4,-4),(52.5,-20),(52.8,5),(53.1,-2),(53.5,4),(53.8,-6),(54.1,2),(54.5,5),(54.8,-3),(55.2,1),(55.6,-5),(56.0,-14),(56.2,3),
    (56.6,-3),(57.0,4),(57.4,-1),(58.0,7),(58.4,-4),(58.8,2),(59.3,-3),(60.0,1),(62.0,3),(62.6,-2),(63.0,3),(63.3,-5),(63.6,5),(63.9,-2),(64.2,6),(64.5,-6),
    (64.8,1),(65.1,5),(65.4,-4),(65.7,3),(66.0,-6),(66.3,6),(66.6,0),(66.9,-4),(67.2,4),(67.5,-2),(67.8,5),(68.2,-6),(68.6,3),(69.0,-3),(69.4,4),(70.0,-5),
    (70.5,-1),(71.0,3),(71.5,-3),(72.0,-5),(72.5,0),(73.0,2),(73.5,-4),(74.0,-1),(74.5,1),(75.0,-5),(75.5,-1),(76.0,6),(76.4,-3),(77.0,-5),(77.5,-1),(78.0,-4),
    (78.5,1),(79.0,-4),(79.5,-1),(80.0,-5),(80.6,-2),(83.0,0),(84.0,-2),(84.8,-4),(85.0,2),(86.3,-5),(86.4,-3),(86.6,1),(86.8,4),(88.0,0),(88.2,-1),(89.5,-2),
    (91.0,-2),(91.5,-3),(93.0,1),(93.3,4),(93.6,-2),(93.9,5),(94.2,-4),(94.5,3),(94.8,6),(95.1,-1),(95.4,4),(95.6,7),(95.9,-4),(96.2,2),(96.5,5),(96.8,-3),
    (97.1,3),(97.4,-5),(97.7,6),(98.0,1),(98.3,-4),(98.6,5),(98.9,-2),(99.2,-6),(99.5,3),(99.8,-4),(100.1,2),(100.4,5),(100.7,-6),(101.0,0),(101.3,4),(101.6,-5),
    (102.0,-14),(102.2,2),(102.5,-3),(102.8,5),(103.0,8),(103.1,-6),(103.4,1),(103.7,-4),(104.0,4),(104.3,-1),(104.6,-6),(104.9,2),(105.2,5),(105.5,-4),(105.8,1),(106.1,-5),
    (106.4,4),(106.7,-2),(107.0,3),(107.3,-6),(107.6,1),(108.0,4),(108.3,-3),(108.6,2),(108.9,-5),(109.3,3),(109.6,-2),(110.0,5),(110.3,-4),(110.7,1),(111.0,-6),(111.4,3),
    (111.8,-2),(112.2,4),(112.6,-5),(113.0,1),(113.5,3),(113.9,-3),(114.3,-6),(114.7,2),(115.1,-2),(115.5,4),(116.0,-2),(116.5,-5),(117.0,3),(117.5,-2),(118.0,1),(118.5,-4),
    (119.0,2),(119.5,-2),(120.0,3),(120.5,-3),(121.5,4),(121.9,-1),(123.3,16),(124.3,-3),(124.6,3),(125.6,-2),(125.9,3),(126.2,-5),(126.5,1),(126.8,4),(127.1,-5),(127.4,2),
    (127.7,-2),(128.0,5),(128.1,35),(128.3,-6),(128.6,1),(128.9,4),(129.2,-4),(129.5,6),(129.8,-1),(130.1,3),(130.4,-6),(130.7,1),(131.0,5),(131.3,-3),(131.6,6),(131.9,-5),
    (132.2,1),(132.5,4),(132.8,-3),(133.1,14),(133.4,-5),(133.7,3),(134.0,6),(134.3,-3),(134.6,10),(134.9,1),(135.2,-6),(135.5,4),(135.8,-1),(136.1,13),(136.4,-5),(136.7,2),
    (137.0,5),(137.3,-3),(137.6,6),(137.9,-6),(138.2,1),(138.5,10),(138.8,-4),(139.1,3),(139.4,-1),(139.7,6),(140.0,-5),(140.3,2),(140.6,5),(140.9,-3),(141.2,-6),(141.5,1),
    (141.8,4),(142.1,-4),(142.4,6),(142.7,-1),(143.0,3),(143.4,12),(143.3,-5),(143.7,1),(144.0,4),(144.4,-3),(144.8,3),(145.2,-4),(145.6,1),(146.0,6),(146.4,-1),(146.8,3),
    (147.2,-4),(147.6,4),(148.0,-1),(148.4,3),(148.8,-5),(149.2,1),(149.6,5),(150.0,-3),(150.4,1),(150.8,5),(151.2,-2),(151.6,3),(152.0,-4),(152.5,9),(152.9,2),(153.3,-4),
    (153.7,4),(154.1,-2),(154.5,5),(154.9,-3),(155.3,2),(155.7,-5),(156.1,4),(156.5,-2),(156.9,5),(157.3,-4),(157.7,1),(158.1,5),(158.5,-3),(159.0,8),(159.5,-2),(160.0,3),
    (160.5,-3),(161.0,2),(161.5,-3),(162.0,1),(162.5,-4),(163.0,3),(163.5,-2),(164.0,-5),(164.5,4),(164.9,-2),(165.3,5),(165.7,-4),(166.1,2),(166.5,6),(166.9,-3),(167.3,-5),
    (167.7,1),(168.1,5),(168.5,-4),(169.0,-12),(169.3,4),(169.7,-3),(170.1,6),(170.4,-5),(170.7,2),(171.0,7),(171.3,-3),(171.6,4),(171.9,-6),(172.2,2),(172.5,6),(172.8,10),
    (172.9,-4),(175.0,-4),(175.4,3),(175.8,-1),(176.2,5),(176.6,-2),(177.0,5),(177.3,-3),(177.6,7),(177.9,1),(178.2,-5),(178.5,3),(178.8,8),(179.1,-4),(179.4,2),(179.7,7),
    (180.0,-5),(180.3,2),(180.6,7),(180.9,-3),(181.2,3),(181.5,9),(181.8,-5),(182.1,1),(182.4,6),(182.7,-3),(183.0,10),(183.3,2),(183.6,-5),(183.9,5),(184.2,-2),(184.5,8),
    (184.8,1),(185.1,-6),(185.4,4),(185.7,10),(186.0,-3),(186.3,2),(186.6,7),(186.9,-5),(187.2,1),(187.5,5),(187.8,10),(188.1,-4),(188.4,2),(188.7,6),(189.0,-5),(189.3,1),
    (189.6,5),(189.9,-4),(190.2,3),(190.5,6),(190.8,-5),(191.0,-9),(191.1,1),(191.4,5),(191.7,-11),(191.9,-3),(192.2,3),(192.5,6),(192.8,-4),(193.1,1),(193.4,6),(193.7,-4),
    (194.0,2),(194.3,6),(194.7,-4),(195.0,9),(195.4,0),(195.8,4),(196.2,-4),(196.6,1),(197.0,4),(197.5,-3),(198.0,3),(198.3,-25),(198.5,-2),(199.0,4),(199.5,-3),(200.0,2),
    (200.5,-3),(201.0,3),(201.5,-1),(202.0,4),(202.5,-3),(203.0,1),(203.5,-3),(204.0,4),(204.6,-1),(206.0,2),(206.5,-3),(207.0,1),(207.5,4),(208.0,-3),(208.6,3),(209.3,-3),
    (210.0,-4),(210.5,3),(211.0,-1),(211.5,-5),(212.0,3),(212.5,-2),(213.0,-5),(213.5,1),(214.0,4),(214.5,-3),(215.0,3),(215.5,-2),(216.0,4),(216.5,-3),(217.0,2),(217.5,-4),
    (218.0,2),(218.5,5),(219.0,-3),(219.6,2),(220.5,1),(221.0,3),(221.5,-3),(222.0,2),(222.5,-4),(223.0,3),(223.6,-2),(224.2,5),(224.8,-4),(225.4,1),(226.0,-3),(226.5,3),
    (227.0,-4),(227.5,2),(228.0,5),(228.5,-3),(229.0,3),(229.5,-2),(230.5,-3),(230.9,4),(231.3,-5),(231.7,3),(232.1,-3),(232.5,6),(232.9,-5),(233.3,2),(233.6,6),(233.9,-4),
    (234.2,3),(234.5,-6),(234.8,1),(235.1,7),(235.4,-3),(235.7,4),(236.0,-6),(236.3,1),(236.6,8),(236.9,-4),(237.2,3),(237.5,-6),(237.8,1),(238.1,6),(238.4,-4),(238.7,14),
    (239.0,-6),(239.3,2),(239.6,7),(239.9,-3),(240.2,4),(240.5,-7),(240.8,1),(241.1,6),(241.4,-13),(241.7,3),(242.0,-5),(242.3,7),(242.6,0),(242.9,5),(243.2,-6),(243.5,-11),
    (243.8,3),(244.1,8),(244.4,-3),(244.7,4),(245.0,-7),(245.3,1),(245.6,7),(245.9,-4),(246.2,3),(246.5,9),(246.8,-5),(247.1,1),(247.4,7),(247.7,-3),(248.0,4),(248.5,-3),
    (248.9,5),(249.3,-1),(249.7,6),(250.1,-2),(250.6,3),(251.0,9),(252.0,-3),(252.4,4),(253.0,-1),(253.4,-6),(254.0,5),(254.5,9),(255.0,-2),(255.6,5),(257.0,3),(257.5,-3),
    (258.0,5),(258.5,0),(259.0,7),(259.5,-3),(260.0,3),(260.5,-5),(261.0,2),(262.0,3),(262.4,-1),(263.0,5),(263.5,-3),(264.0,2),(264.5,7),(265.0,-2),(265.6,3),(266.5,12),
    (266.6,-9),(266.7,1),(268.0,-3),(268.3,4),(268.6,-5),(268.9,2),(269.2,6),(269.5,-3),(269.8,5),(270.1,-1),(270.3,-5),(270.6,7),(270.9,1),(271.2,-4),(271.5,4),(271.8,-1),
    (272.1,6),(272.5,-3),(272.9,2),(273.3,5),(273.7,-2),(274.1,4),(274.5,7),(275.0,-1),(276.0,3),(277.3,1),(277.7,-3),(278.0,2),(278.3,6),(278.6,-4),(278.9,1),(279.2,8),
    (279.5,-5),(279.8,2),(280.1,6),(280.4,-3),(280.7,4),(281.0,8),(281.2,-7),(281.5,1),(281.8,5),(282.1,-3),(282.4,3),(282.7,7),(283.0,-2),(283.3,4),(284.3,5),(284.6,-3),
    (284.9,3),(285.2,-5),(285.5,1),(285.8,7),(286.1,-2),(286.4,4),(286.7,-5),(287.0,14),(287.2,1),(287.5,-3),(287.8,4),(288.1,-5),(288.4,2),(288.8,5),(289.2,-2),(290.0,3),
    (290.5,-5),(290.9,1),(291.3,5),(291.7,-3),(292.1,3),(292.5,-5),(292.9,1),(293.3,4),(293.7,-3),(294.1,2),(294.5,-4),(295.5,1),(295.9,-3),(298.0,3),(298.4,-2),(298.8,4),
    (299.2,-3),(299.6,2),(300.0,-1),(300.4,4),(300.8,-3),(301.2,3),(301.6,-4),(302.0,1),(303.0,3),(303.5,-2),(304.0,4),(304.5,-1),(305.0,2),(306.0,3),(306.3,-3),(307.0,3),
    (307.3,-5),(307.6,5),(307.9,0),(308.2,-6),(308.5,6),(308.8,2),(309.1,-4),(309.4,4),(309.7,-1),(310.0,6),(310.3,-5),(310.6,3),(310.9,-3),(311.2,5),(311.5,-5),(311.8,1),
    (312.1,4),(312.4,-3),(312.7,5),(313.5,2),(313.9,-3),(314.3,4),(314.7,-3),(315.1,2),(315.4,13),(315.6,-2),(316.0,3),(316.4,-3),(316.8,3),(318.0,4),(318.3,-3),(318.6,3),
    (318.9,-5),(319.2,5),(319.5,-1),(319.8,3),(320.1,-4),(321.0,3),(321.3,-4),(321.6,5),(321.9,-1),(322.2,-6),(322.5,3),(322.8,6),(323.1,-3),(323.4,4),(323.7,-5),(324.0,1),
    (324.3,5),(324.6,-3),(324.9,3),(325.2,7),(325.5,-6),(325.8,1),(326.1,4),(326.4,-3),(326.7,7),(327.0,-5),(327.3,2),(327.6,5),(327.9,-4),(328.2,1),(328.5,7),(328.8,-5),
    (329.2,-15),(329.3,3),(330.4,-6),(330.7,3),(331.0,6),(331.3,-5),(331.6,1),(331.9,7),(332.1,13),(332.3,-5),(332.6,3),(332.9,6),(333.2,-4),(333.5,2),(333.8,7),(334.1,-6),
    (334.2,14),(334.4,0),(334.7,5),(335.0,-3),(335.3,6),(335.6,-6),(335.9,2),(336.2,5),(336.5,-3),(336.8,7),(337.1,-5),(337.4,1),(337.7,6),(338.0,-3),(338.3,4),(338.7,14),
    (338.6,-5),(338.9,6),(339.2,-2),(339.5,4),(339.8,-5),(340.1,6),(340.4,1),(340.7,-3),(341.0,4),(341.3,-2),(341.6,-6),(342.0,3),(342.5,-23),(342.6,-15),(344.0,1),(344.4,6),
    (344.8,-1),(345.2,4),(345.6,-3),(346.0,3),(347.2,3),(347.6,-2),(348.0,4),(348.5,-12),(348.6,2),(349.2,5),(349.6,-1),(350.0,-3),(350.4,4),(351.1,9),(351.3,2),(351.6,-2),
    (353.0,2),(355.6,-2),(357.0,-2),(357.7,7),(357.8,1),(357.9,-4),(359.3,6),(359.3,-1),(359.4,-6)]

# the thick clumps of the purple track
purple_clumps = [(0.6,2),(1.6,1),(2.5,3),(3.3,-2),(4.1,3),(5.1,1),(6.1,3),(7.1,-2),(8.1,3),(9.1,0),(10.1,-2),(11.1,0),(12.1,-3),(13.1,-1),(14.1,1),
    (47.0,1),(47.9,-2),(49.6,1),(50.6,-1),(51.6,2),(52.6,0),(53.6,1),(54.6,-1),(63.5,1),(64.4,-2),(65.3,1),(66.2,-2),(67.1,1),(94.0,1),(95.3,-1),(96.4,0),(97.5,1),(98.4,1),(99.4,0),
    (100.6,1),(101.4,-2),(102.4,1),(103.3,-2),(104.2,1),(105.1,-1),(106.0,2),(106.9,-1),(107.8,-2),(108.8,0),(110.2,1),(111.2,-2),(112.4,1),(113.7,1),(115.3,1),(116.8,-1),(118.2,0),
    (126.6,-1),(127.6,1),(128.4,-2),(129.3,2),(130.2,-1),(131.1,2),(132.0,-2),(132.9,1),(133.8,-1),(134.7,2),(135.6,1),(136.5,-1),(137.4,2),(138.3,-2),(139.2,1),(140.1,-1),(141.0,1),(141.9,-1),
    (142.8,2),(143.8,-2),(144.8,-1),(145.8,2),(146.8,-1),(147.8,1),(148.8,-1),(149.8,1),(150.8,-1),(151.8,1),(173.0,1),(176.0,1),(176.9,1),(177.8,3),(178.6,-1),(179.5,4),(180.2,-1),(181.0,4),(181.9,1),
    (182.6,4),(183.4,0),(184.3,4),(185.0,-2),(185.8,4),(186.5,1),(187.3,4),(188.2,-1),(189.1,3),(189.9,1),(190.7,3),(191.6,-1),(192.4,1),(193.2,3),(194.1,0),(233.4,1),(234.0,-1),(234.6,2),
    (235.3,-1),(235.9,2),(236.5,-2),(237.1,3),(237.7,-2),(238.3,2),(239.0,1),(239.7,-2),(240.3,3),(240.9,-3),(241.6,1),(242.2,-1),(242.8,3),(243.4,-2),(244.0,2),(244.6,-1),(245.2,3),(245.8,0),(246.4,2),(247.0,-2),
    (268.5,-1),(269.3,1),(270.2,2),(271.0,-2),(271.9,2),(272.7,0),(278.6,1),(279.4,2),(280.2,-1),(281.1,2),(281.9,-1),(282.8,2),(285.0,1),(286.0,0),(287.1,-1),(288.2,1),
    (308.4,1),(309.2,0),(310.1,1),(311.0,0),(311.9,-1),(322.0,1),(323.0,-1),(324.1,1),(325.0,-1),(326.0,1),(327.0,1),(328.0,-1),(329.0,1),(331.2,1),(332.0,-1),(332.8,1),(333.6,-1),(334.5,2),
    (335.4,0),(336.3,1),(337.2,-1),(338.1,1),(339.0,-1),(339.9,2),(340.8,0),(341.7,1)]

track_radius = {"orange": 656, "teal": 565, "purple": 492, "magenta": 416}
track_colors = {"orange": "#FF8340", "teal": "#008080", "purple": "#800080", "magenta": "#FF00FF"}
track_size = {"orange": 80, "teal": 80, "purple": 80, "magenta": 60}
track_points = {"orange": orange_points + orange_clumps, "teal": teal_points + teal_clumps,
                "purple": purple_points + purple_clumps, "magenta": magenta_points}

sns.set_theme(style="white")
plt.rcParams["font.family"] = ["Liberation Sans", "DejaVu Sans"]

fig = plt.figure(figsize=(23.56, 23.56), dpi=100)
ax = fig.add_axes([0, 0, 1, 1], polar=True)
ax.set_theta_zero_location("N")
ax.set_theta_direction(-1)

starts = np.radians(sector_start)
ends = np.radians(sector_end)
widths = ends - starts

# outer band with the sector names
ax.bar(starts, 78, width=widths, bottom=706, align="edge", color="#00009C", linewidth=0, zorder=2)
for name, a, b in zip(sector_names, starts, ends):
    ax.text((a + b) / 2, 745, name, color="white", fontsize=34, ha="center", va="center", zorder=6)

# scatter tracks
for track, points in track_points.items():
    df = pd.DataFrame(points, columns=["pos", "value"])
    df["theta"] = np.radians(df["pos"])
    df["radius"] = track_radius[track] + df["value"]
    sns.scatterplot(data=df, x="theta", y="radius", color=track_colors[track], s=track_size[track],
                    linewidth=0, ax=ax, zorder=3, legend=False)

# zero line of each track, broken at the sector gaps
for radius in track_radius.values():
    for a, b in zip(starts, ends):
        arc = np.linspace(a, b, 120)
        ax.plot(arc, np.full_like(arc, radius), color="black", lw=2.3, solid_capstyle="butt", zorder=4)

# inner ring
ax.bar(starts, 78, width=widths, bottom=290, align="edge", facecolor="none",
       edgecolor="#BEBEBE", linewidth=2.2, zorder=2)
marker_lw = [3.6 if p == 339.7 else 2.5 for p in marker_pos]
ax.vlines(np.radians(marker_pos), 291, 367, color="red", linewidth=marker_lw, zorder=3)

ax.set_xlabel("")
ax.set_ylabel("")
ax.set_rlim(0, 784)
ax.set_axis_off()

fig.savefig("out.png", dpi=100, facecolor="white")
